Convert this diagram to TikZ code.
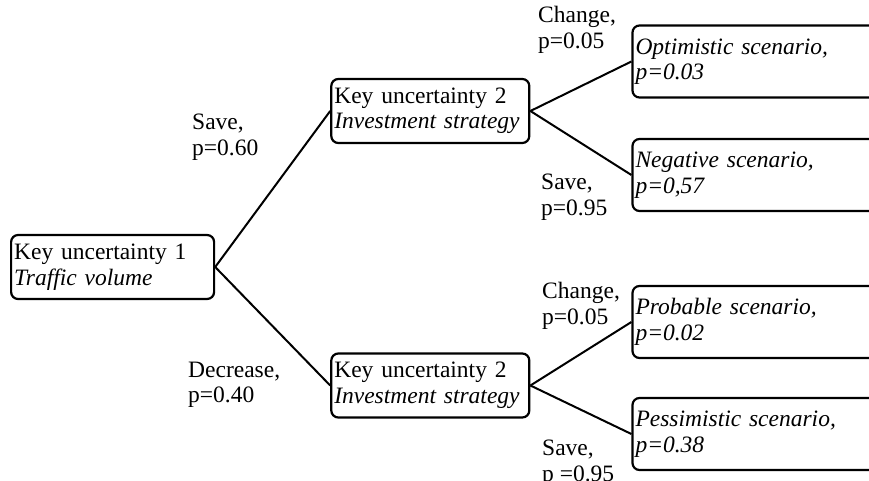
\documentclass[tikz,border=0pt]{standalone}
\usepackage{fontspec}
\setmainfont{Liberation Serif}
\usetikzlibrary{positioning}
\newcommand{\treefont}{\fontsize{23.5}{25.5}\selectfont}
\tikzstyle{keybox}=[draw=black, line width=2.2pt, rounded corners=7pt, text width=197pt, minimum height=64pt, inner xsep=3pt, align=left, font=\treefont]
\tikzstyle{scenbox}=[keybox, text width=300pt, minimum height=72pt, font=\treefont\itshape]
\tikzstyle{branch}=[draw=black, line width=2pt]
\tikzstyle{prob}=[align=left, inner sep=0pt, anchor=west, font=\treefont]

\begin{document}
\begin{tikzpicture}
    \useasboundingbox (0,0) rectangle (869pt,-481pt);
    \clip (0,0) rectangle (869pt,-481pt);

    \node[keybox, anchor=west] (traffic) at (10pt,-267pt) {Key uncertainty 1\\\textit{Traffic volume}};
    \node[keybox, text width=192pt, right=115pt of traffic, yshift=156pt]    (investA) {Key uncertainty 2\\\textit{Investment strategy}};
    \node[keybox, text width=192pt, right=115pt of traffic, yshift=-118.5pt] (investB) {Key uncertainty 2\\\textit{Investment strategy}};

    \node[scenbox] (optimistic)  [right=101pt of investA, yshift=49.5pt]  {Optimistic scenario,\\p=0.03};
    \node[scenbox] (negative)    [right=101pt of investA, yshift=-64pt]   {Negative scenario,\\p=0,57};
    \node[scenbox] (probable)    [right=101pt of investB, yshift=63.5pt]  {Probable scenario,\\p=0.02};
    \node[scenbox] (pessimistic) [right=101pt of investB, yshift=-48.5pt] {Pessimistic scenario,\\p=0.38};

    \node[prob] (saveA)    at (192pt,-137pt) {Save,\\p=0.60};
    \node[prob] (decrease) at (188pt,-385pt) {Decrease,\\p=0.40};
    \node[prob] (changeA)  at (538pt,-30pt)  {Change,\\p=0.05};
    \node[prob] (saveB)    at (541pt,-197pt) {Save,\\p=0.95};
    \node[prob] (changeB)  at (542pt,-306pt) {Change,\\p=0.05};
    \node[prob] (saveC)    at (542pt,-463pt) {Save,\\p =0.95};

    \draw[branch] (traffic.east) -- (investA.west);
    \draw[branch] (traffic.east) -- (investB.west);
    \draw[branch] (investA.east) -- (optimistic.west);
    \draw[branch] (investA.east) -- (negative.west);
    \draw[branch] (investB.east) -- (probable.west);
    \draw[branch] (investB.east) -- (pessimistic.west);
\end{tikzpicture}
\end{document}
